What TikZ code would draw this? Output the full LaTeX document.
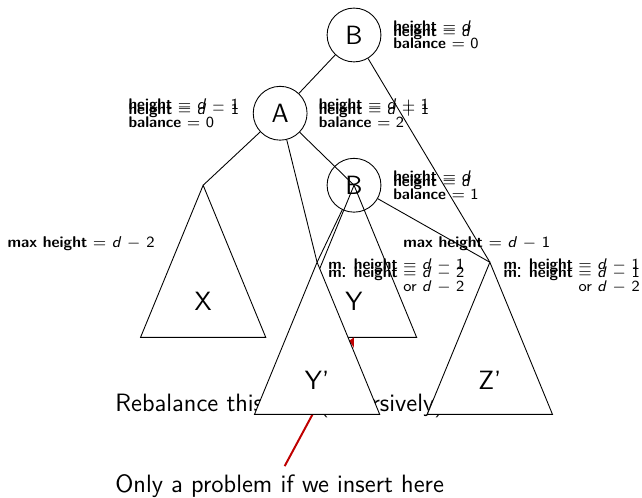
\documentclass[tikz,border=0pt]{standalone}
\usepackage{amsmath, amssymb}
\usepackage{xcolor}
\usepackage{tikz}
\usetikzlibrary{calc, positioning}
\renewcommand{\familydefault}{\sfdefault}
\newcommand{\dd}{\textit{d}}

\tikzset{
    knot/.style={draw, circle, minimum size=0.86cm, inner sep=0pt, font=\large},
    info/.style={font=\fontsize{7}{6}\selectfont, align=left, inner sep=0pt},
    infor/.style={font=\fontsize{7}{6}\selectfont, align=right, inner sep=0pt},
    subinfo/.style={font=\fontsize{7.1}{8}\selectfont, inner sep=0pt},
    subtree/.style={draw, fill=white},
    note/.style={font=\fontsize{11.4}{13}\selectfont, inner sep=0pt},
    hint/.style={->, draw=red!75!black, line width=0.9pt}
}

\begin{document}
\begin{tikzpicture}[>=stealth]
    \useasboundingbox (-5.655,0.559) rectangle (4.6,-7.38);

    % Đỉnh của các cây con
    \coordinate (Xtop) at (-2.41,-2.4);
    \coordinate (Ytop) at (0,-2.4);
    \coordinate (Y2top) at (-0.59,-3.63);
    \coordinate (Z2top) at (2.17,-3.63);
    \coordinate (Ybot) at ($(Ytop)+(0,-2.43)$);

    % Cây con X và Y (trước khi xoay)
    \draw[subtree] (Xtop) -- ++(-1,-2.43) -- ++(2,0) -- cycle;
    \draw[subtree] (Ytop) -- ++(-1,-2.43) -- ++(2,0) -- cycle;
    \node[font=\large] (X) at ($(Xtop)+(0,-1.86)$) {X};
    \node[font=\large] (Y) at ($(Ytop)+(0,-1.86)$) {Y};

    % Các nút
    \node[knot] (Btop) at (0,0) {B};
    \node[knot] (A) at (-1.18,-1.25) {A};
    \node[knot] (Bin) at (0,-2.4) {B};

    % Các cạnh
    \draw (Btop) -- (A);
    \draw (Btop) -- (Z2top);
    \draw (A) -- (Xtop);
    \draw (A) -- (Ytop);
    \draw (A) -- (Y2top);
    \draw (Bin) -- (Y2top);
    \draw (Bin) -- (Z2top);

    % Chiều cao và hệ số cân bằng
    \node[info, anchor=base west] (BtopH) at ($(Btop.center)+(0.62,0.06)$) {\textbf{height} $=$ \dd};
    \node[info, anchor=base west] (BtopHB) at ($(Btop.center)+(0.62,-0.22)$) {\textbf{height} $=$ \dd\\[-1.7pt]\textbf{balance} $=$ 0};
    \node[info, anchor=base east] (AlH) at ($(A.center)+(-0.65,0.06)$) {\textbf{height} $=$ \dd{} $-$ 1};
    \node[info, anchor=base east] (AlHB) at ($(A.center)+(-0.65,-0.22)$) {\textbf{height} $=$ \dd{} $-$ 1\\[-1.7pt]\textbf{balance} $=$ 0};
    \node[info, anchor=base west] (ArH) at ($(A.center)+(0.61,0.06)$) {\textbf{height} $=$ \dd{} $+$ 1};
    \node[info, anchor=base west] (ArHB) at ($(A.center)+(0.61,-0.22)$) {\textbf{height} $=$ \dd{} $+$ 1\\[-1.7pt]\textbf{balance} $=$ 2};
    \node[info, anchor=base west] (BinH) at ($(Bin.center)+(0.62,0.06)$) {\textbf{height} $=$ \dd};
    \node[info, anchor=base west] (BinHB) at ($(Bin.center)+(0.62,-0.22)$) {\textbf{height} $=$ \dd\\[-1.7pt]\textbf{balance} $=$ 1};

    % Chiều cao tối đa của các cây con
    \node[subinfo, anchor=base west] (maxX) at (-5.54,-3.39) {\textbf{max height} $=$ \dd{} $-$ 2};
    \node[subinfo, anchor=base west] (maxZ) at (0.78,-3.39) {\textbf{max height} $=$ \dd{} $-$ 1};
    \node[infor, anchor=base east] (mY) at (1.77,-3.74) {\textbf{m. height} $=$ \dd{} $-$ 1};
    \node[infor, anchor=base east] (mYor) at (1.77,-4.09) {\textbf{m. height} $=$ \dd{} $-$ 2\\[-1.3pt]or \dd{} $-$ 2};
    \node[infor, anchor=base east] (mZ) at (4.57,-3.74) {\textbf{m. height} $=$ \dd{} $-$ 1};
    \node[infor, anchor=base east] (mZor) at (4.57,-4.09) {\textbf{m. height} $=$ \dd{} $-$ 1\\[-1.3pt]or \dd{} $-$ 2};

    % Ghi chú
    \node[note, anchor=base west] (rebal) at (-3.82,-6.02) {Rebalance this first (recursively)};
    \node[note, anchor=base west] (problem) at (-3.82,-7.30) {Only a problem if we insert here};
    \draw[hint] ($(problem.north)+(0.08,0.12)$) -- (Ybot);

    % Cây con Y' và Z' (sau khi xoay)
    \draw[subtree] (Y2top) -- ++(-1,-2.43) -- ++(2,0) -- cycle;
    \draw[subtree] (Z2top) -- ++(-1,-2.43) -- ++(2,0) -- cycle;
    \node[font=\large] (Y2) at ($(Y2top)+(0,-1.88)$) {Y'};
    \node[font=\large] (Z2) at ($(Z2top)+(0,-1.88)$) {Z'};
\end{tikzpicture}
\end{document}
